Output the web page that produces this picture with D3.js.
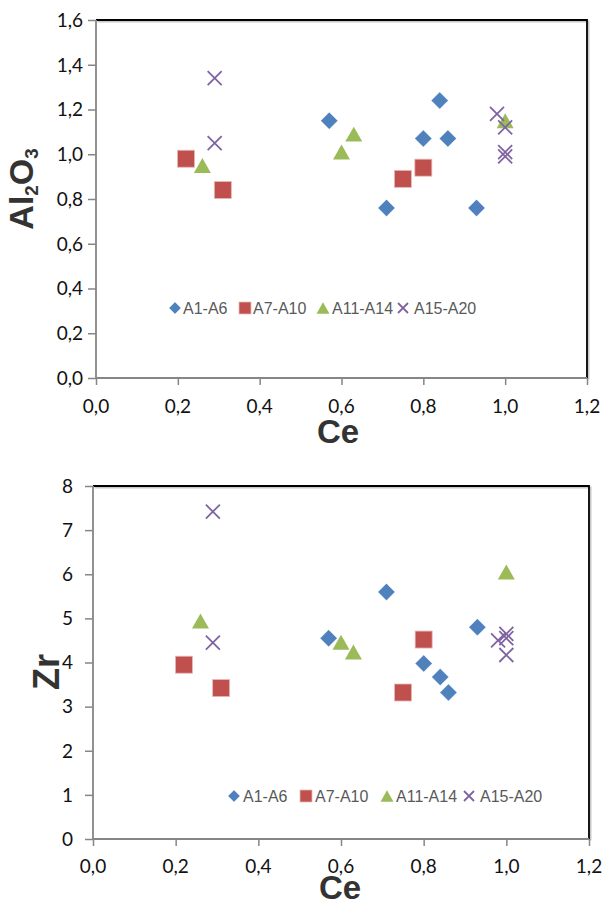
<!DOCTYPE html>
<html><head><meta charset="utf-8">
<script src="https://cdn.jsdelivr.net/npm/d3@7"></script>
<style>
html,body{margin:0;padding:0;background:#fff;}
svg{display:block;}
</style></head>
<body>
<svg id="c" width="605" height="903"></svg>
<script>
// ---- Data ----
const seriesNames = ["A1-A6", "A7-A10", "A11-A14", "A15-A20"];
const ceA1 = [0.57, 0.71, 0.80, 0.84, 0.86, 0.93];
const alA1 = [1.15, 0.76, 1.07, 1.24, 1.07, 0.76];
const zrA1 = [4.55, 5.60, 3.98, 3.67, 3.32, 4.80];
const ceA7 = [0.22, 0.31, 0.75, 0.80];
const alA7 = [0.98, 0.84, 0.89, 0.94];
const zrA7 = [3.95, 3.42, 3.32, 4.52];
const ceA11 = [0.26, 0.60, 0.63, 1.00];
const alA11 = [0.95, 1.01, 1.09, 1.15];
const zrA11 = [4.94, 4.46, 4.24, 6.05];
const ceA15 = [0.29, 0.29, 0.98, 1.00, 1.00, 1.00];
const alA15 = [1.34, 1.05, 1.18, 1.12, 1.01, 0.99];
const zrA15 = [7.42, 4.45, 4.50, 4.65, 4.55, 4.17];
const xTicks = [0, 0.2, 0.4, 0.6, 0.8, 1.0, 1.2];
const alTicks = [0, 0.2, 0.4, 0.6, 0.8, 1.0, 1.2, 1.4, 1.6];
const zrTicks = [0, 1, 2, 3, 4, 5, 6, 7, 8];

const colors = ["#4F81BD", "#C0504D", "#9BBB59", "#8064A2"];
const shapes = ["diamond", "square", "triangle", "cross"];
const fmt1 = d => d3.format(".1f")(d).replace(".", ",");
const fmt0 = d => String(d);

const svg = d3.select("#c");

function marker(g, shape, x, y, s, color) {
  if (shape === "diamond") {
    g.append("path").attr("d", `M${x},${y - s / 2}L${x + s / 2},${y}L${x},${y + s / 2}L${x - s / 2},${y}Z`)
      .attr("fill", color).attr("stroke", "#ffffff").attr("stroke-opacity", 0.5).attr("stroke-width", 0.6);
  } else if (shape === "square") {
    const h = s / 2;
    g.append("rect").attr("x", x - h).attr("y", y - h).attr("width", s).attr("height", s)
      .attr("fill", color).attr("stroke", "#e8b8b6").attr("stroke-width", 0.8);
  } else if (shape === "triangle") {
    const h = s * 0.88 / 2, w = s / 2;
    g.append("path").attr("d", `M${x},${y - h}L${x + w},${y + h}L${x - w},${y + h}Z`)
      .attr("fill", color);
  } else {
    const h = s / 2;
    g.append("path").attr("d", `M${x - h},${y - h}L${x + h},${y + h}M${x - h},${y + h}L${x + h},${y - h}`)
      .attr("stroke", color).attr("stroke-width", 1.8).attr("fill", "none");
  }
}

function chart(cfg) {
  const { left, right, top, bottom, yMax, yTicks, yFmt, series, legend, yLabelEnd, xLabelBase, title, titleX, titleY, xTitleX, xTitleY } = cfg;
  const x = d3.scaleLinear().domain([0, 1.2]).range([left, right]);
  const y = d3.scaleLinear().domain([0, yMax]).range([bottom, top]);
  const g = svg.append("g");

  // frame: top & right black
  g.append("path").attr("d", `M${left},${top}H${right}V${bottom}`)
    .attr("fill", "none").attr("stroke", "#c8c8c8").attr("stroke-width", 2).attr("transform", "translate(1.5,1.5)");
  g.append("path").attr("d", `M${left},${top}H${right}V${bottom}`)
    .attr("fill", "none").attr("stroke", "#000").attr("stroke-width", 1.8);

  // axes
  const xAxis = d3.axisBottom(x).tickValues(xTicks).tickSize(7).tickFormat("");
  const ga = g.append("g").attr("transform", `translate(0,${bottom})`).call(xAxis);
  ga.select(".domain").attr("stroke", "#868686").attr("stroke-width", 1.8).attr("d", `M${left},0H${right}`);
  ga.selectAll(".tick line").attr("stroke", "#868686").attr("stroke-width", 1.5);
  const yAxis = d3.axisLeft(y).tickValues(yTicks).tickSize(8).tickFormat("");
  const gy = g.append("g").attr("transform", `translate(${left},0)`).call(yAxis);
  gy.select(".domain").attr("stroke", "#868686").attr("stroke-width", 1.8).attr("d", `M0,${bottom}V${top}`);
  gy.selectAll(".tick line").attr("stroke", "#868686").attr("stroke-width", 1.5);

  // tick labels
  g.selectAll(".xl").data(xTicks).enter().append("text")
    .attr("x", d => x(d)).attr("y", xLabelBase).attr("text-anchor", "middle")
    .attr("font-family", "Lato, 'Open Sans', sans-serif").attr("font-size", 19).attr("fill", "#111")
    .text(fmt1);
  g.selectAll(".yl").data(yTicks).enter().append("text")
    .attr("x", yLabelEnd).attr("y", d => y(d)).attr("dy", "0.36em").attr("text-anchor", "end")
    .attr("font-family", "Lato, 'Open Sans', sans-serif").attr("font-size", 19).attr("fill", "#111")
    .text(yFmt);

  // points
  series.forEach((s, i) => {
    s.xs.forEach((cx, j) => marker(g, shapes[i], x(cx), y(s.ys[j]), i === 3 ? 14 : 17, colors[i]));
  });

  // legend
  legend.forEach((L, i) => {
    const s = i === 3 ? 10 : (i === 2 ? 13 : 12);
    marker(g, shapes[i], L.mx, L.y, s, colors[i]);
    g.append("text").attr("x", L.tx).attr("y", L.y).attr("dy", "0.37em")
      .attr("font-family", "'Liberation Sans', Arial, sans-serif").attr("font-size", 16).attr("fill", "#595959")
      .text(seriesNames[i]);
  });

  // x title
  g.append("text").attr("x", xTitleX).attr("y", xTitleY).attr("text-anchor", "middle")
    .attr("font-family", "'Liberation Sans', Arial, sans-serif").attr("font-weight", "bold")
    .attr("font-size", 33).attr("fill", "#333").text("Ce");
  // y title
  const t = g.append("text").attr("transform", `translate(${titleX},${titleY}) rotate(-90)`)
    .attr("text-anchor", "middle")
    .attr("font-family", "'Liberation Sans', Arial, sans-serif").attr("font-weight", "bold")
    .attr("font-size", title.size).attr("fill", "#333");
  title.parts.forEach(p => {
    const ts = t.append("tspan").text(p.t);
    if (p.sub) ts.attr("font-size", title.size * 0.55).attr("dy", 5);
    else if (p.after) ts.attr("dy", -5);
  });
}

chart({
  left: 96, right: 587, top: 20, bottom: 378, yMax: 1.6, yTicks: alTicks, yFmt: fmt1,
  yLabelEnd: 83, xLabelBase: 413,
  series: [{ xs: ceA1, ys: alA1 }, { xs: ceA7, ys: alA7 }, { xs: ceA11, ys: alA11 }, { xs: ceA15, ys: alA15 }],
  legend: [{ mx: 175, tx: 183, y: 308 }, { mx: 245, tx: 253, y: 308 }, { mx: 323, tx: 332, y: 308 }, { mx: 403, tx: 414, y: 308 }],
  title: { size: 34, parts: [{ t: "Al" }, { t: "2", sub: true }, { t: "O", after: true }, { t: "3", sub: true }] },
  titleX: 33, titleY: 189, xTitleX: 338, xTitleY: 443
});

chart({
  left: 93, right: 589, top: 486, bottom: 839, yMax: 8, yTicks: zrTicks, yFmt: fmt0,
  yLabelEnd: 73, xLabelBase: 873,
  series: [{ xs: ceA1, ys: zrA1 }, { xs: ceA7, ys: zrA7 }, { xs: ceA11, ys: zrA11 }, { xs: ceA15, ys: zrA15 }],
  legend: [{ mx: 234, tx: 243, y: 796 }, { mx: 306, tx: 315, y: 796 }, { mx: 387, tx: 396, y: 796 }, { mx: 469, tx: 480, y: 796 }],
  title: { size: 36, parts: [{ t: "Zr" }] },
  titleX: 59, titleY: 672, xTitleX: 340, xTitleY: 899
});
</script>
</body></html>
